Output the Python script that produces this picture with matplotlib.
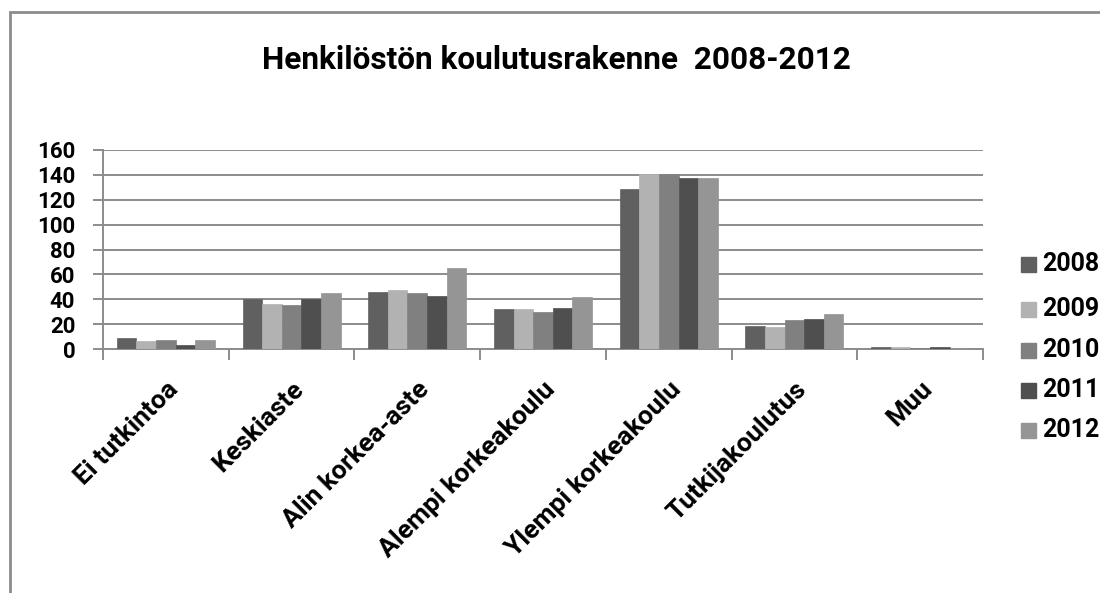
import matplotlib
matplotlib.use("Agg")
import matplotlib.pyplot as plt
import numpy as np
from matplotlib.patches import Rectangle

categories = ["Ei tutkintoa", "Keskiaste", "Alin korkea-aste", "Alempi korkeakoulu",
              "Ylempi korkeakoulu", "Tutkijakoulutus", "Muu"]
years = ["2008", "2009", "2010", "2011", "2012"]
v2008 = [8.5, 40, 45.5, 32, 128.5, 18.8, 2]
v2009 = [6.5, 36.5, 47.5, 32, 140.5, 18, 2]
v2010 = [7.5, 35.5, 45, 30, 140.5, 23, 1]
v2011 = [3.2, 40, 42.5, 33, 137.5, 24, 1.3]
v2012 = [7.5, 45, 65.5, 42, 137.5, 28, 1]
series = [v2008, v2009, v2010, v2011, v2012]
colors = ["#606060", "#b2b2b2", "#808080", "#4f4f4f", "#959595"]
yticks = [0, 20, 40, 60, 80, 100, 120, 140, 160]

plt.rcParams['font.family'] = ['Roboto', 'DejaVu Sans']
fig = plt.figure(figsize=(11, 5.93), dpi=100)
ax = fig.add_axes([103/1100, 1-349/593, 880/1100, 199/593])

x = np.arange(len(categories))
bw = 0.156
for i, (vals, c) in enumerate(zip(series, colors)):
    ax.bar(x + (i - 2) * bw, vals, width=bw, color=c, edgecolor=c, linewidth=0.5,
           label=years[i], zorder=3)

ax.set_xlim(-0.5, len(categories) - 0.5)
ax.set_ylim(0, 160)
ax.set_yticks(yticks)
ax.set_yticklabels([str(t) for t in yticks], fontsize=16, fontweight='bold')
ax.yaxis.grid(True, color='#8c8c8c', linewidth=1.4, zorder=0)
ax.set_axisbelow(True)
for s in ['top', 'right']:
    ax.spines[s].set_visible(False)
for s in ['left', 'bottom']:
    ax.spines[s].set_color('#8c8c8c')
    ax.spines[s].set_linewidth(1.4)
ax.tick_params(axis='y', length=7, width=1.4, color='#8c8c8c', pad=13)

ax.set_xticks(np.arange(-0.5, len(categories)), minor=True)
ax.set_xticks(x)
ax.set_xticklabels(categories, rotation=45, ha='right', va='top', rotation_mode='anchor',
                   fontsize=19, fontweight='bold')
ax.tick_params(axis='x', which='major', length=0, pad=20)
ax.tick_params(axis='x', which='minor', length=8, width=1.4, color='#8c8c8c')

fig.text(556/1100, 1-60/593, "Henkilöstön koulutusrakenne  2008-2012", ha='center', va='center',
         fontsize=22.7, fontweight='bold')

# legend (manual, placed as in the reference)
leg_y = [264, 309, 350, 390, 430]
for yy, c, lab in zip(leg_y, colors, years):
    fig.patches.append(Rectangle((1021/1100, 1-(yy+7.5)/593), 15/1100, 15/593,
                                 transform=fig.transFigure, color=c))
    fig.text(1042/1100, 1-yy/593, lab, ha='left', va='center', fontsize=18, fontweight='bold')

# chart border
fig.patches.append(Rectangle((10/1100, -0.05), 1.2, 1-12/593+0.05, transform=fig.transFigure,
                             fill=False, edgecolor='#8c8c8c', linewidth=2))

fig.savefig("out.png", dpi=100)
